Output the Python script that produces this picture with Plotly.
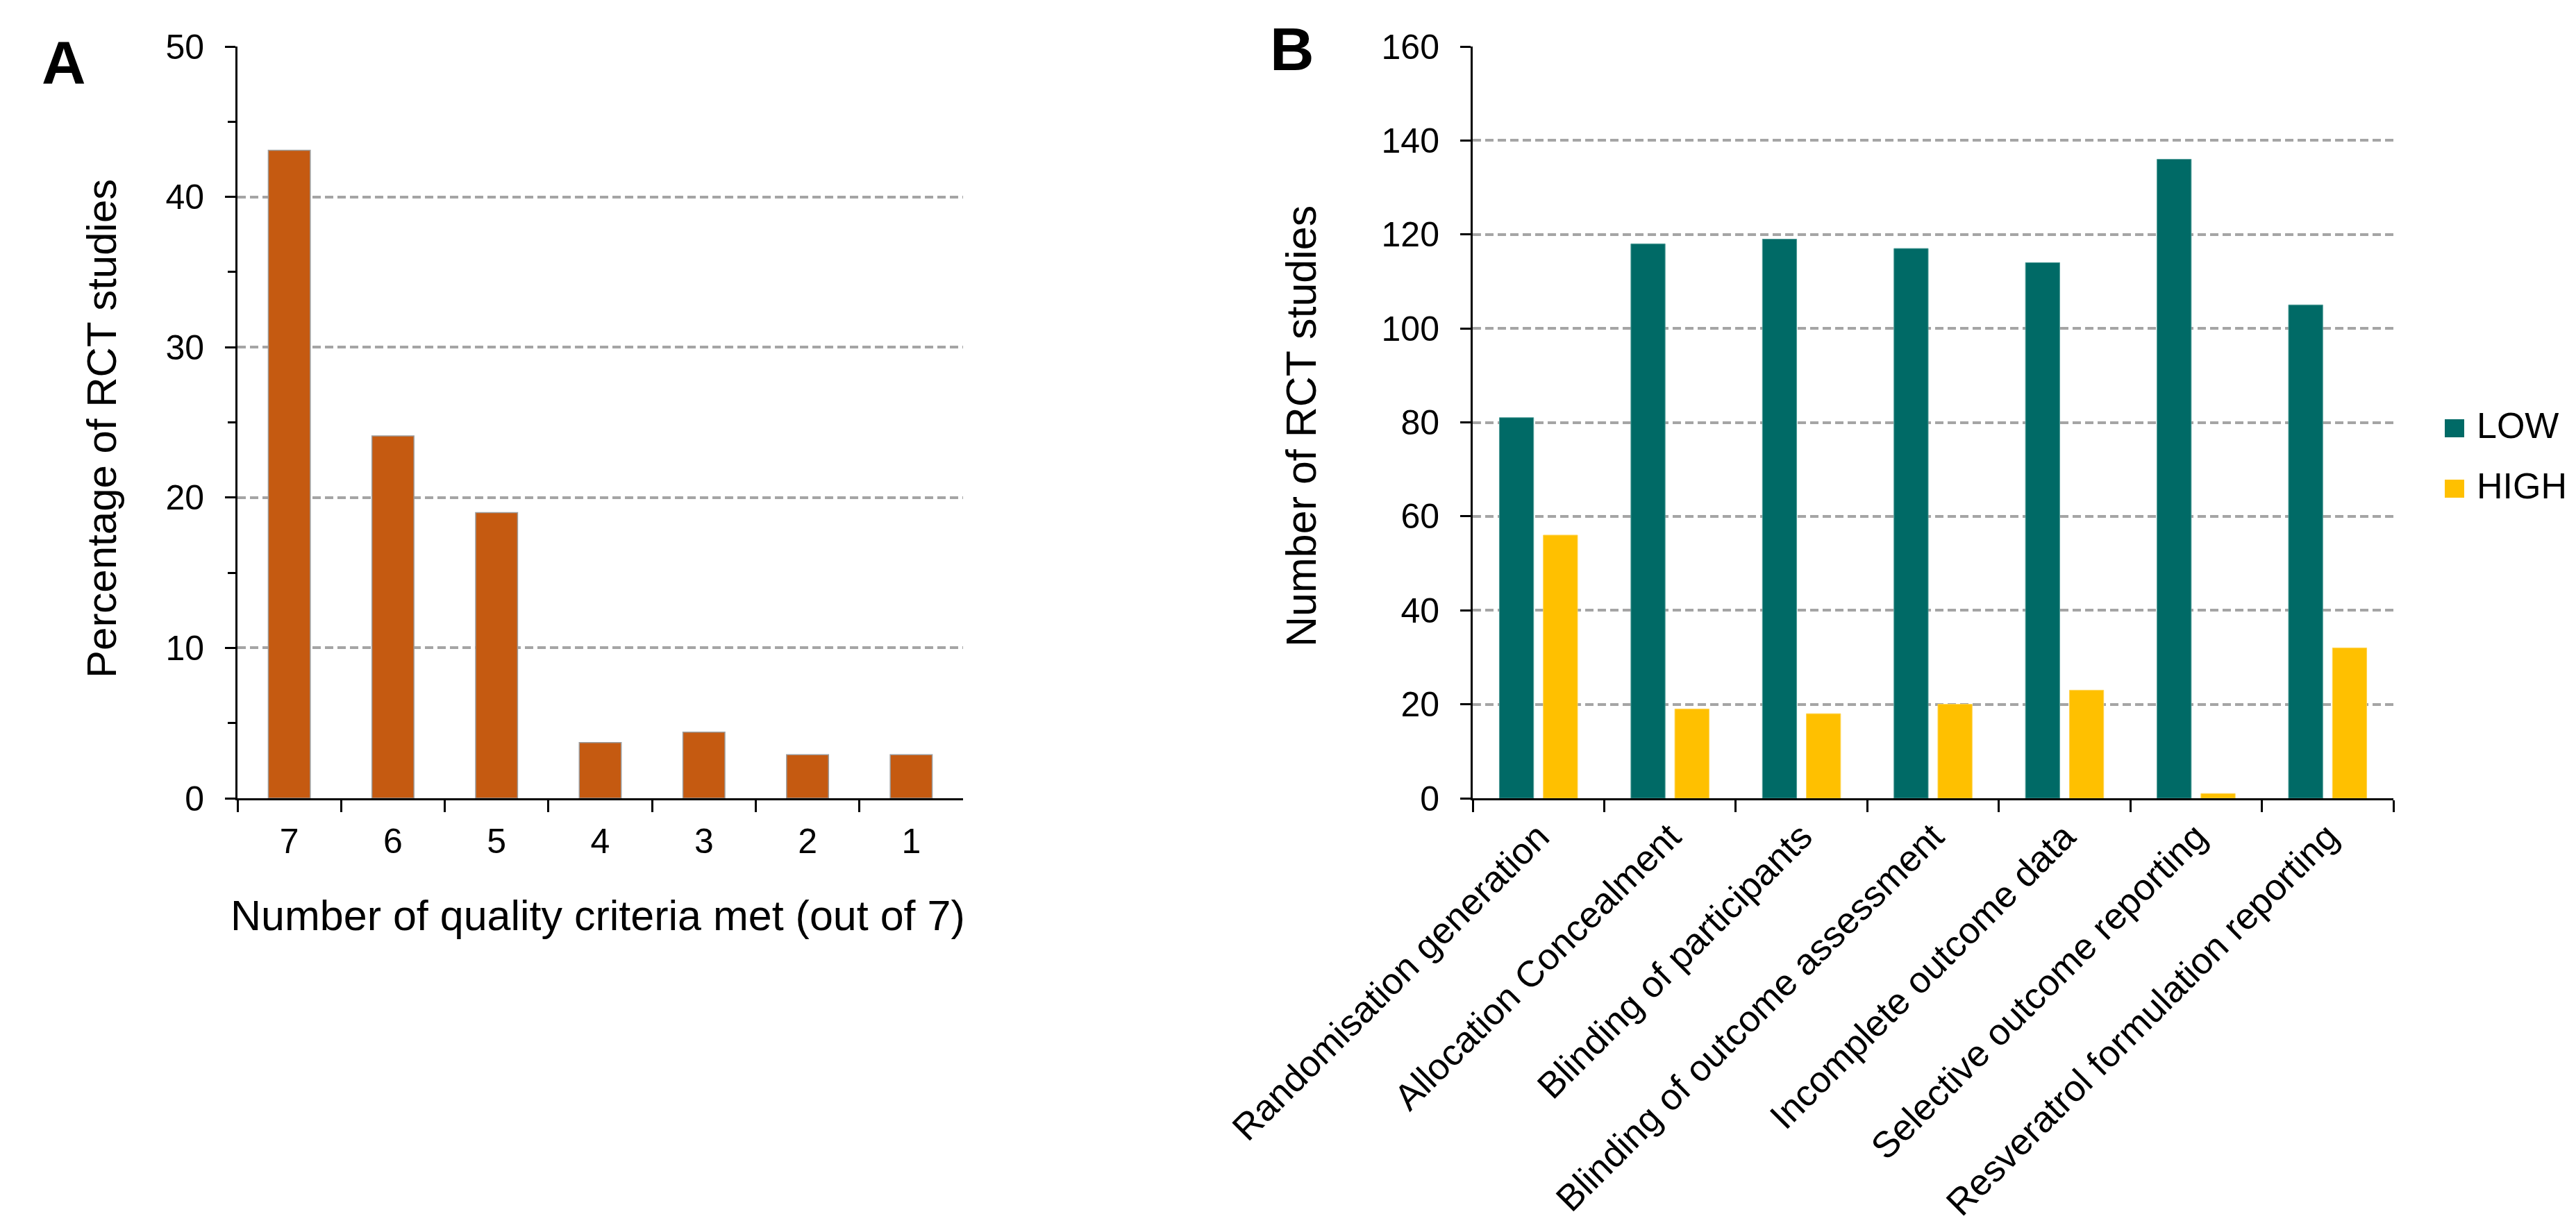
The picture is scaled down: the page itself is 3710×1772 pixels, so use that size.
import plotly.graph_objects as go

# ---------------- data ----------------
criteria_met = ["7", "6", "5", "4", "3", "2", "1"]
pct_studies = [43.1, 24.1, 19.0, 3.7, 4.4, 2.9, 2.9]

domains = [
    "Randomisation generation",
    "Allocation Concealment",
    "Blinding of participants",
    "Blinding of outcome assessment",
    "Incomplete outcome data",
    "Selective outcome reporting",
    "Resveratrol formulation reporting",
]
low_risk = [81, 118, 119, 117, 114, 136, 105]
high_risk = [56, 19, 18, 20, 23, 1, 32]
series_names = ["LOW", "HIGH"]

# ---------------- style ----------------
W, H = 3710, 1772
FONT = "Liberation Sans, Arial, sans-serif"
ORANGE = "#C55A11"
TEAL = "#006A66"
GOLD = "#FFC000"
GRID = "#A5A5A5"


def px(x):
    return x / W


def py(y):
    return 1 - y / H


fig = go.Figure()

fig.add_trace(go.Bar(
    x=criteria_met, y=pct_studies, xaxis="x", yaxis="y",
    width=0.405, marker=dict(color=ORANGE, line=dict(color="#9C9C9C", width=1.5)),
    showlegend=False,
))
fig.add_trace(go.Bar(
    x=domains, y=low_risk, name=series_names[0], xaxis="x2", yaxis="y2",
    width=0.26, offset=-0.297,
    marker=dict(color=TEAL, line=dict(color="#4E9C97", width=1)),
    showlegend=False,
))
fig.add_trace(go.Bar(
    x=domains, y=high_risk, name=series_names[1], xaxis="x2", yaxis="y2",
    width=0.26, offset=0.037,
    marker=dict(color=GOLD, line=dict(color="#FFD34F", width=1)),
    showlegend=False,
))

ydom = [py(1142), py(59)]

common_x = dict(
    type="category", tickson="boundaries", ticks="outside", ticklen=17, tickwidth=3,
    tickcolor="black", showline=True, linewidth=3, linecolor="black",
    showgrid=False, zeroline=False, range=[-0.5, 6.5], automargin=False,
    tickfont=dict(family=FONT, size=50, color="black"),
)
common_y = dict(
    ticks="outside", ticklen=15, tickwidth=3, tickcolor="black",
    showline=True, linewidth=3, linecolor="black",
    showgrid=True, gridcolor=GRID, gridwidth=3.5, griddash="12px,6px",
    zeroline=False, automargin=False, ticklabelstandoff=20,
    tickfont=dict(family=FONT, size=50, color="black"),
)

fig.update_layout(
    width=W, height=H,
    margin=dict(l=0, r=0, t=0, b=0),
    paper_bgcolor="white", plot_bgcolor="white",
    barmode="overlay",
    font=dict(family=FONT, color="black"),
    xaxis=dict(common_x, domain=[px(334), px(1379)], anchor="y", ticklabelstandoff=16),
    yaxis=dict(common_y, domain=ydom, anchor="x", range=[0, 50], dtick=10,
               minor=dict(dtick=5, ticks="outside", ticklen=11, tickwidth=3,
                          tickcolor="black", showgrid=False)),
    xaxis2=dict(common_x, domain=[px(2113), px(3439)], anchor="y2", tickangle=-45,
                tickfont=dict(family=FONT, size=53, color="black")),
    yaxis2=dict(common_y, domain=ydom, anchor="x2", range=[0, 160], dtick=20),
    showlegend=False,
)

annotations = [
    dict(text="<b>A</b>", x=px(84), y=py(81), font=dict(size=88)),
    dict(text="<b>B</b>", x=px(1853), y=py(63), font=dict(size=88)),
    dict(text="Percentage of RCT studies", x=px(138), y=py(610), textangle=-90,
         font=dict(size=60)),
    dict(text="Number of quality criteria met (out of 7)", x=px(853), y=py(1311),
         font=dict(size=61)),
    dict(text="Number of RCT studies", x=px(1866), y=py(606), textangle=-90,
         font=dict(size=61)),
]
for a in annotations:
    a.update(xref="paper", yref="paper", showarrow=False, xanchor="center", yanchor="middle")
    a["font"].update(family=FONT, color="black")

# legend swatches + labels, built from the series names and colours
legend_rows = [(series_names[0], TEAL, 609), (series_names[1], GOLD, 696)]
for name, col, yc in legend_rows:
    fig.add_shape(type="rect", xref="paper", yref="paper",
                  x0=px(3513), x1=px(3541), y0=py(yc + 13), y1=py(yc - 13),
                  fillcolor=col, line=dict(width=0))
    annotations.append(dict(text=name, x=px(3557), y=py(yc - 4), xref="paper", yref="paper",
                            showarrow=False, xanchor="left", yanchor="middle",
                            font=dict(family=FONT, size=52, color="black")))

fig.update_layout(annotations=annotations)

fig.write_html("out.html")
